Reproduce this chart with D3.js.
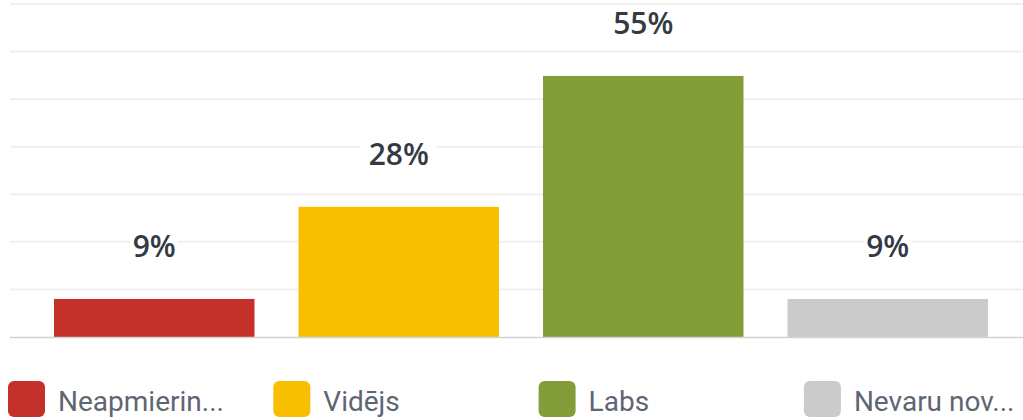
<!DOCTYPE html>
<html lang="lv">
<head>
<meta charset="UTF-8">
<title>Chart</title>
<script src="https://cdnjs.cloudflare.com/ajax/libs/d3/7.8.5/d3.min.js"></script>
<style>
  body { margin: 0; background: #fff; }
  .label { font-family: "Open Sans", sans-serif; font-weight: 600; font-size: 30px; fill: #333a44; }
  .legend text { font-family: Roboto, sans-serif; font-size: 28px; fill: #5e6672; }
</style>
</head>
<body>
<script>
    // data
    var categories = ["Neapmierinoši", "Vidējs", "Labs", "Nevaru novērtēt"];
    var legendLabels = ["Neapmierin...", "Vidējs", "Labs", "Nevaru nov..."];
    var values = [9, 28, 55, 9];
    var colors = ["#c4312b", "#f8bf00", "#839e39", "#cbcbcb"];
    var gridTicks = [0, 10, 20, 30, 40, 50, 60, 70];

    var W = 1023, H = 420, baseline = 337;

    var svg = d3.select("body").append("svg")
        .attr("width", W)
        .attr("height", H);

    var x = d3.scaleBand()
        .domain(categories)
        .range([32, 1010])
        .paddingInner(0.18)
        .paddingOuter(0.09);

    // bars scale (zero sits just under the axis line)
    var y = d3.scaleLinear().domain([0, 70]).range([342.6, 3.2]);
    // grid scale
    var g = d3.scaleLinear().domain([0, 70]).range([baseline, 4]);

    svg.append("g").selectAll("line")
        .data(gridTicks.slice(1))
        .enter().append("line")
        .attr("x1", 10).attr("x2", W)
        .attr("y1", function(d) { return g(d); })
        .attr("y2", function(d) { return g(d); })
        .attr("stroke", "#efefef")
        .attr("stroke-width", 2);

    svg.append("g").selectAll("rect")
        .data(values)
        .enter().append("rect")
        .attr("x", function(d, i) { return x(categories[i]); })
        .attr("width", x.bandwidth())
        .attr("y", function(d) { return y(d); })
        .attr("height", function(d) { return baseline - y(d); })
        .attr("fill", function(d, i) { return colors[i]; });

    svg.append("line")
        .attr("x1", 10).attr("x2", W)
        .attr("y1", baseline + 0.5).attr("y2", baseline + 0.5)
        .attr("stroke", "#d2d2d2")
        .attr("stroke-width", 1.5);

    // value labels with white background
    var labels = svg.append("g").selectAll("g")
        .data(values)
        .enter().append("g")
        .attr("transform", function(d, i) {
            return "translate(" + (x(categories[i]) + x.bandwidth() / 2) + "," + (y(d) - 42) + ")";
        });
    labels.append("rect")
        .attr("x", function(d) { return d >= 10 ? -38 : -24; })
        .attr("width", function(d) { return d >= 10 ? 76 : 48; })
        .attr("y", -26).attr("height", 32)
        .attr("fill", "#fff");
    labels.append("text")
        .attr("class", "label")
        .attr("text-anchor", "middle")
        .text(function(d) { return d + "%"; });

    // legend
    var legend = svg.append("g").attr("class", "legend").selectAll("g")
        .data(legendLabels)
        .enter().append("g")
        .attr("transform", function(d, i) { return "translate(" + (8 + i * 265.3) + ",381)"; });
    legend.append("rect")
        .attr("width", 37).attr("height", 36)
        .attr("rx", 6)
        .attr("fill", function(d, i) { return colors[i]; });
    legend.append("text")
        .attr("x", 50).attr("y", 30)
        .text(function(d) { return d; });
</script>
</body>
</html>
